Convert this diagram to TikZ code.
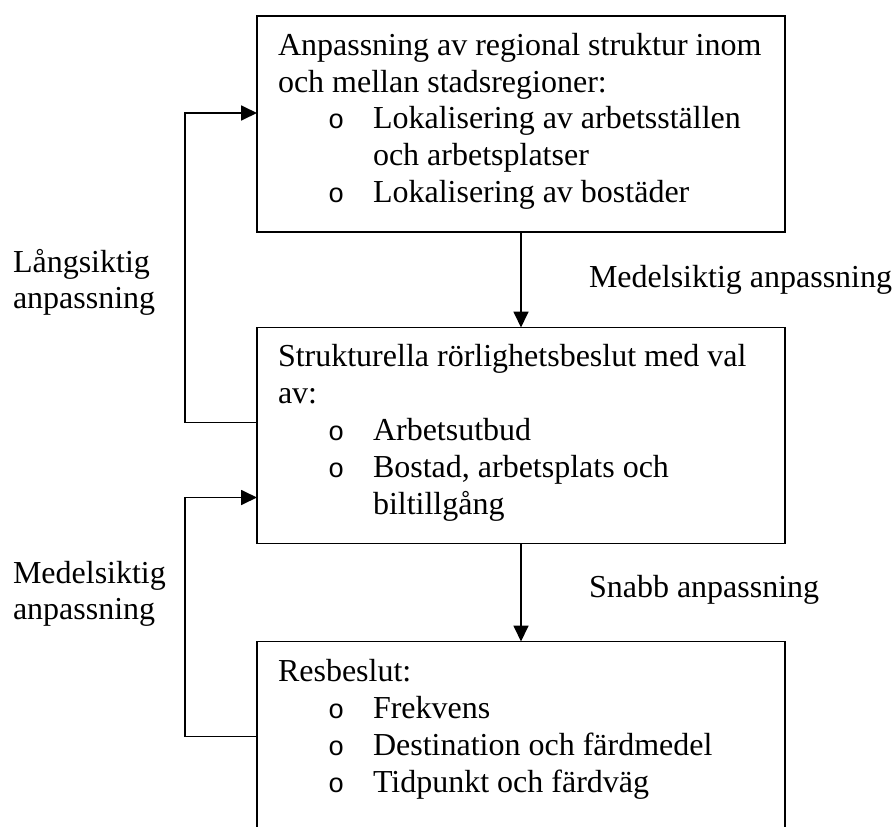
\documentclass[tikz,border=0pt]{standalone}
\usepackage{fontspec}
\setmainfont{Liberation Serif}
\newfontfamily\bulletfont{Liberation Mono}
\usetikzlibrary{arrows.meta}

\tikzset{
  box/.style={draw, line width=1.8pt, rectangle, inner sep=0pt, outer sep=0pt,
              minimum width=528pt, minimum height=216pt},
  txt/.style={anchor=base west, inner sep=0pt, outer sep=0pt,
              font=\fontsize{32}{36.8}\selectfont},
  bul/.style={anchor=base west, inner sep=0pt, outer sep=0pt,
              font=\fontsize{27}{36.8}\selectfont\bulletfont},
  link/.style={line width=1.8pt, -{Triangle[length=16pt,width=15pt]}}
}

\begin{document}
\begin{tikzpicture}[x=1pt,y=-1pt]
\useasboundingbox (0,0) rectangle (892,827);
\clip (0,0) rectangle (892,827);

% the three decision levels
\node[box] (b1) at (521,124) {};
\node[box] (b2) at (521,435.5) {};
\node[box] (b3) at (521,749.5) {};

% level 1: regional structure
\node[txt] (b1l1) at (278,55) {Anpassning av regional struktur inom};
\node[txt] (b1l2) at (278,92) {och mellan stadsregioner:};
\node[bul] (b1o1) at (328,128) {o};
\node[txt] (b1i1) at (373,128) {Lokalisering av arbetsställen};
\node[txt] (b1i1b) at (373,165) {och arbetsplatser};
\node[bul] (b1o2) at (328,202) {o};
\node[txt] (b1i2) at (373,202) {Lokalisering av bostäder};

% level 2: structural mobility decisions
\node[txt] (b2l1) at (278,366) {Strukturella rörlighetsbeslut med val};
\node[txt] (b2l2) at (278,403) {av:};
\node[bul] (b2o1) at (328,440) {o};
\node[txt] (b2i1) at (373,440) {Arbetsutbud};
\node[bul] (b2o2) at (328,477) {o};
\node[txt] (b2i2) at (373,477) {Bostad, arbetsplats och};
\node[txt] (b2i2b) at (373,514) {biltillgång};

% level 3: travel decisions
\node[txt] (b3l1) at (278,681) {Resbeslut:};
\node[bul] (b3o1) at (328,718) {o};
\node[txt] (b3i1) at (373,718) {Frekvens};
\node[bul] (b3o2) at (328,755) {o};
\node[txt] (b3i2) at (373,755) {Destination och färdmedel};
\node[bul] (b3o3) at (328,792) {o};
\node[txt] (b3i3) at (373,792) {Tidpunkt och färdväg};

% downward adjustments
\draw[link] (b1.south) -- (b2.north);
\draw[link] (b2.south) -- (b3.north);
\node[txt] (lab1) at (589,287) {Medelsiktig anpassning};
\node[txt] (lab2) at (589,597) {Snabb anpassning};

% feedback loops on the left
\draw[link] ([yshift=-95pt]b2.north west) -- ++(-72,0) |- ([yshift=-97pt]b1.north west);
\draw[link] ([yshift=-95pt]b3.north west) -- ++(-72,0) |- ([yshift=-170pt]b2.north west);
\node[txt] (lab3a) at (13,272) {Långsiktig};
\node[txt] (lab3b) at (13,308) {anpassning};
\node[txt] (lab4a) at (13,583) {Medelsiktig};
\node[txt] (lab4b) at (13,619) {anpassning};
\end{tikzpicture}
\end{document}
